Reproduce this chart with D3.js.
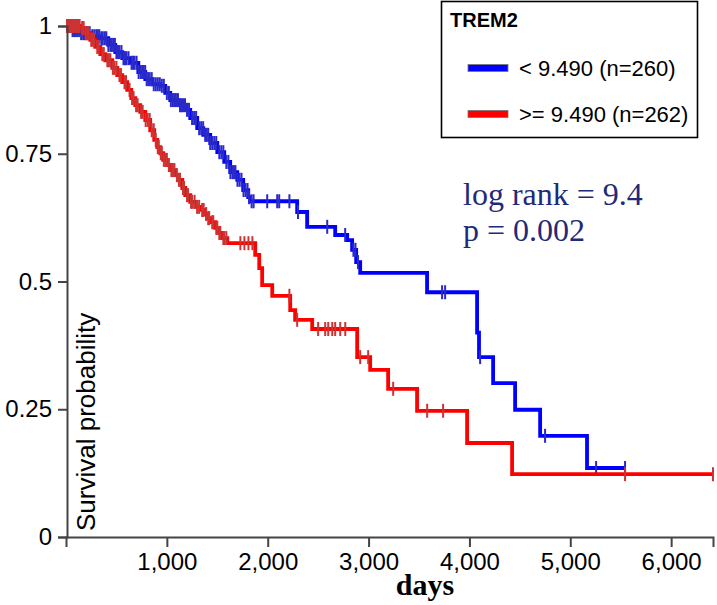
<!DOCTYPE html>
<html>
<head>
<meta charset="utf-8">
<script src="https://cdn.jsdelivr.net/npm/d3@7"></script>
<style>
  html, body { margin: 0; padding: 0; background: #fff; }
  svg { display: block; }
</style>
</head>
<body>
<svg id="chart" width="717" height="605"></svg>
<script>
// ---------------- DATA ----------------
const groupNames = ["< 9.490 (n=260)", ">= 9.490 (n=262)"];
const legendTitle = "TREM2";
const xTickValues = [1000, 2000, 3000, 4000, 5000, 6000];
const yTickValues = [0, 0.25, 0.5, 0.75, 1];
const yTickLabels = ["0", "0.25", "0.5", "0.75", "1"];
const xMaxDays = 6415;

// Low group (blue): event times (days) and survival after each drop
const blueTimes = [62,142,241,340,419,489,558,637,717,786,855,935,984,1034,1113,1182,1232,1301,1361,1430,1500,1569,1628,1698,1757,1807,1827,2292,2391,2669,2788,2837,2877,2917,3580,4076,4095,4235,4453,4701,5166];
const blueSurv  = [0.992,0.986,0.980,0.976,0.963,0.949,0.937,0.928,0.910,0.896,0.886,0.883,0.869,0.855,0.845,0.836,0.820,0.800,0.787,0.771,0.753,0.734,0.714,0.699,0.679,0.665,0.657,0.636,0.607,0.591,0.581,0.562,0.538,0.517,0.479,0.400,0.352,0.301,0.249,0.198,0.135];
const blueCensor = [15,25,40,50,65,80,95,110,130,150,170,185,200,215,235,260,280,300,315,330,350,365,385,400,420,440,455,470,485,500,515,530,550,570,585,600,620,650,665,680,700,720,740,755,770,785,800,815,830,850,870,890,910,930,950,970,1000,1020,1040,1060,1075,1090,1110,1130,1145,1160,1180,1200,1220,1250,1270,1290,1320,1340,1360,1380,1395,1410,1430,1450,1470,1490,1520,1540,1560,1590,1610,1630,1650,1665,1680,1700,1720,1740,1760,1780,1800,1815,1840,1860,1995,2094,2114,2215,2300,2590,2768,2850,2870,2895,3729,3759,4106,4750,5256,5543];
const blueEnd = 5543;

// High group (red)
const redTimes = [142,191,241,290,340,389,459,508,558,607,647,687,736,786,835,875,905,935,964,1004,1034,1083,1113,1153,1182,1232,1281,1331,1371,1400,1440,1480,1510,1550,1599,1876,1916,1945,2045,2223,2272,2441,2887,3016,3194,3481,3977,4423];
const redSurv  = [0.996,0.986,0.973,0.959,0.945,0.933,0.918,0.904,0.890,0.875,0.859,0.845,0.832,0.816,0.796,0.777,0.763,0.751,0.738,0.728,0.718,0.708,0.699,0.683,0.669,0.656,0.646,0.640,0.632,0.624,0.616,0.605,0.595,0.585,0.575,0.552,0.526,0.493,0.472,0.444,0.425,0.407,0.352,0.327,0.290,0.247,0.184,0.123];
const redCensor = [10,20,30,40,50,60,70,80,90,100,110,118,125,135,160,175,195,210,225,250,265,280,310,325,360,375,410,425,440,465,480,500,530,545,580,595,630,655,670,695,710,745,760,790,810,830,850,870,890,910,920,940,950,970,985,1000,1020,1045,1060,1075,1100,1120,1130,1160,1170,1200,1210,1240,1250,1275,1300,1320,1350,1365,1390,1410,1420,1450,1460,1490,1500,1520,1530,1560,1570,1590,1729,1769,1809,1848,2215,2292,2500,2570,2600,2640,2669,2719,2769,2917,2996,3244,3581,3739,5543,6415];
const redEnd = 6415;

const statLines = ["log rank = 9.4", "p = 0.002"];

// ---------------- DRAW ----------------
const svg = d3.select("#chart");
const x = d3.scaleLinear().domain([0, xMaxDays]).range([66, 713]);
const y = d3.scaleLinear().domain([0, 1]).range([537, 26]);

const groups = [
  {times: blueTimes, surv: blueSurv, censor: blueCensor, end: blueEnd, color: "#0000ff", tick: "#2a2ac8"},
  {times: redTimes, surv: redSurv, censor: redCensor, end: redEnd, color: "#ff0000", tick: "#cc3333"}
];

const line = d3.line().x(d => x(d[0])).y(d => y(d[1])).curve(d3.curveStepAfter);

groups.forEach(g => {
  const pts = [[0, 1]].concat(g.times.map((t, i) => [t, g.surv[i]]));
  pts.push([g.end, g.surv[g.surv.length - 1]]);
  svg.append("path")
    .datum(pts)
    .attr("d", line)
    .attr("fill", "none")
    .attr("stroke", g.color)
    .attr("stroke-width", 3.8)
    .attr("stroke-linejoin", "miter");
  const survAt = c => {
    const i = d3.bisectRight(g.times, c);
    return i === 0 ? 1 : g.surv[i - 1];
  };
  svg.append("g").selectAll("line")
    .data(g.censor)
    .join("line")
    .attr("x1", d => x(d)).attr("x2", d => x(d))
    .attr("y1", d => y(survAt(d)) - 7)
    .attr("y2", d => y(survAt(d)) + 7)
    .attr("stroke", g.tick)
    .attr("stroke-width", 2);
});

// Axes
const xAxis = d3.axisBottom(x).tickValues(xTickValues).tickFormat(d3.format(",")).tickSize(10).tickSizeOuter(10).tickPadding(6);
const gx = svg.append("g").attr("transform", "translate(0,537)").call(xAxis);
const yAxis = d3.axisLeft(y).tickValues(yTickValues).tickFormat((d, i) => yTickLabels[i]).tickSize(9).tickSizeOuter(9).tickPadding(6);
const gy = svg.append("g").attr("transform", "translate(67,0)").call(yAxis);

[gx, gy].forEach(g => {
  g.select(".domain").attr("stroke", "#444").attr("stroke-width", 2);
  g.selectAll(".tick line").attr("stroke", "#444").attr("stroke-width", 2);
  g.selectAll(".tick text")
    .attr("fill", "#000")
    .style("font-family", "'Liberation Sans', Arial, sans-serif")
    .style("font-size", "24px");
});

// Axis titles
svg.append("text")
  .attr("transform", "translate(95,531) rotate(-90)")
  .attr("text-anchor", "start")
  .style("font-family", "'Liberation Sans', Arial, sans-serif")
  .style("font-size", "26px")
  .attr("fill", "#000")
  .text("Survival probability");

svg.append("text")
  .attr("x", 425).attr("y", 595)
  .attr("text-anchor", "middle")
  .style("font-family", "'Liberation Serif', 'Times New Roman', serif")
  .style("font-size", "30px")
  .style("font-weight", "bold")
  .attr("fill", "#000")
  .text("days");

// Stats
svg.append("g").selectAll("text")
  .data(statLines)
  .join("text")
  .attr("x", 463)
  .attr("y", (d, i) => 205 + i * 36)
  .style("font-family", "'Liberation Serif', 'Times New Roman', serif")
  .style("font-size", "32px")
  .attr("fill", "#1f2a78")
  .text(d => d);

// Legend
const lg = svg.append("g");
lg.append("rect")
  .attr("x", 441.5).attr("y", 1.5).attr("width", 256).attr("height", 136)
  .attr("fill", "#fff").attr("stroke", "#000").attr("stroke-width", 1.6);
lg.append("text")
  .attr("x", 450).attr("y", 26.5)
  .style("font-family", "'Liberation Sans', Arial, sans-serif")
  .style("font-size", "20px").style("font-weight", "bold")
  .attr("fill", "#000")
  .text(legendTitle);
groupNames.forEach((name, i) => {
  const cy = 68 + i * 46;
  lg.append("rect")
    .attr("x", 468).attr("y", cy - 3.5).attr("width", 40).attr("height", 7)
    .attr("fill", groups[i].color).attr("stroke", "#777").attr("stroke-width", 0.8);
  lg.append("text")
    .attr("x", 519).attr("y", cy + 7.5)
    .style("font-family", "'Liberation Sans', Arial, sans-serif")
    .style("font-size", "22px")
    .attr("fill", "#000")
    .text(name);
});
</script>
</body>
</html>
